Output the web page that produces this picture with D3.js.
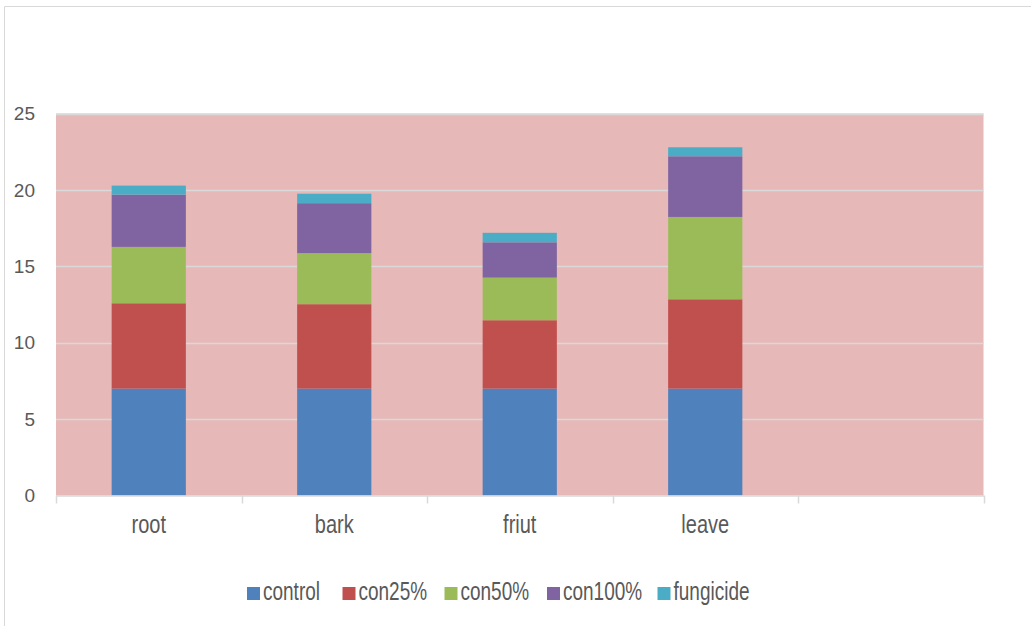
<!DOCTYPE html>
<html>
<head>
<meta charset="utf-8">
<script src="https://cdn.jsdelivr.net/npm/d3@7"></script>
<style>
  html, body { margin: 0; padding: 0; background: #fff; }
  svg { display: block; }
  text { font-family: "Liberation Sans", Arial, sans-serif; fill: #595959; }
</style>
</head>
<body>
<svg id="chart" width="1031" height="626"></svg>
<script>
// Plant part categories (the fifth slot is left empty)
const categories = ["root", "bark", "friut", "leave", ""];
const seriesNames = ["control", "con25%", "con50%", "con100%", "fungicide"];
const seriesColors = ["#4f81bd", "#c0504d", "#9bbb59", "#8064a2", "#4bacc6"];

// Values per series, one per category
const control   = [7.0, 7.0, 7.0, 7.0];
const con25     = [5.58, 5.52, 4.47, 5.84];
const con50     = [3.69, 3.34, 2.79, 5.39];
const con100    = [3.42, 3.27, 2.31, 3.97];
const fungicide = [0.59, 0.62, 0.62, 0.59];

const yTicks = [0, 5, 10, 15, 20, 25];

const seriesValues = [control, con25, con50, con100, fungicide];
const rows = categories.slice(0, 4).map((c, i) => {
  const r = { category: c };
  seriesNames.forEach((s, k) => { r[s] = seriesValues[k][i]; });
  return r;
});

const svg = d3.select("#chart");
const W = 1031, H = 626;
const plot = { left: 56, right: 983.5, top: 113.5, bottom: 495.5 };

// Outer chart frame
svg.append("path")
  .attr("d", `M4.5,${H} L4.5,6.5 L${W},6.5`)
  .attr("fill", "none")
  .attr("stroke", "#d9d9d9")
  .attr("stroke-width", 1);

const x = d3.scaleBand()
  .domain(categories)
  .range([plot.left, plot.right])
  .paddingInner(0.6)
  .paddingOuter(0.3);

const y = d3.scaleLinear()
  .domain([0, 25])
  .range([plot.bottom, plot.top]);

// Plot area background
svg.append("rect")
  .attr("x", plot.left)
  .attr("y", plot.top)
  .attr("width", plot.right - plot.left)
  .attr("height", plot.bottom - plot.top)
  .attr("fill", "#e6b8b7");

// Horizontal gridlines
svg.append("g")
  .selectAll("line")
  .data(yTicks.filter(t => t > 0))
  .join("line")
  .attr("x1", plot.left)
  .attr("x2", plot.right)
  .attr("y1", d => Math.round(y(d)) + 0.5)
  .attr("y2", d => Math.round(y(d)) + 0.5)
  .attr("stroke", "#d9d9d9")
  .attr("stroke-width", 1.5);

// Stacked bars
const stack = d3.stack().keys(seriesNames);
const layers = stack(rows);

svg.append("g")
  .selectAll("g")
  .data(layers)
  .join("g")
  .attr("fill", (d, i) => seriesColors[i])
  .selectAll("rect")
  .data(d => d)
  .join("rect")
  .attr("x", d => x(d.data.category))
  .attr("width", x.bandwidth())
  .attr("y", d => y(d[1]))
  .attr("height", d => y(d[0]) - y(d[1]));

// Y axis labels
svg.append("g")
  .selectAll("text")
  .data(yTicks)
  .join("text")
  .attr("x", 35)
  .attr("y", d => y(d))
  .attr("dy", "0.35em")
  .attr("text-anchor", "end")
  .style("font-size", "19px")
  .text(d => d);

// X axis line with category labels (narrow, tall lettering)
const xAxis = d3.axisBottom(x).tickSize(0).tickFormat(d => d);
const gx = svg.append("g")
  .attr("transform", `translate(0,${plot.bottom})`)
  .call(xAxis);
gx.select(".domain").attr("stroke", "#d9d9d9").attr("stroke-width", 1.5);
gx.selectAll(".tick text")
  .attr("dy", 0)
  .attr("y", 0)
  .attr("transform", "translate(0,37) scale(0.8,1)")
  .style("font-size", "25px")
  .style("font-family", "'Liberation Sans', Arial, sans-serif")
  .attr("fill", "#595959");

// Category boundary ticks
const step = (plot.right - plot.left) / categories.length;
const boundaries = d3.range(categories.length + 1).map(i => plot.left + i * step);
svg.append("g")
  .selectAll("line")
  .data(boundaries)
  .join("line")
  .attr("x1", d => Math.round(d) + 0.5)
  .attr("x2", d => Math.round(d) + 0.5)
  .attr("y1", plot.bottom)
  .attr("y2", plot.bottom + 8)
  .attr("stroke", "#d9d9d9")
  .attr("stroke-width", 1.5);

// Legend
const legendX = [247, 342.5, 444.5, 547, 657.5];
const legend = svg.append("g")
  .selectAll("g")
  .data(seriesNames)
  .join("g")
  .attr("transform", (d, i) => `translate(${legendX[i]},587)`);
legend.append("rect")
  .attr("width", 13)
  .attr("height", 13)
  .attr("fill", (d, i) => seriesColors[i]);
legend.append("text")
  .attr("transform", "translate(16,13) scale(0.76,1)")
  .style("font-size", "25px")
  .text(d => d);
</script>
</body>
</html>
